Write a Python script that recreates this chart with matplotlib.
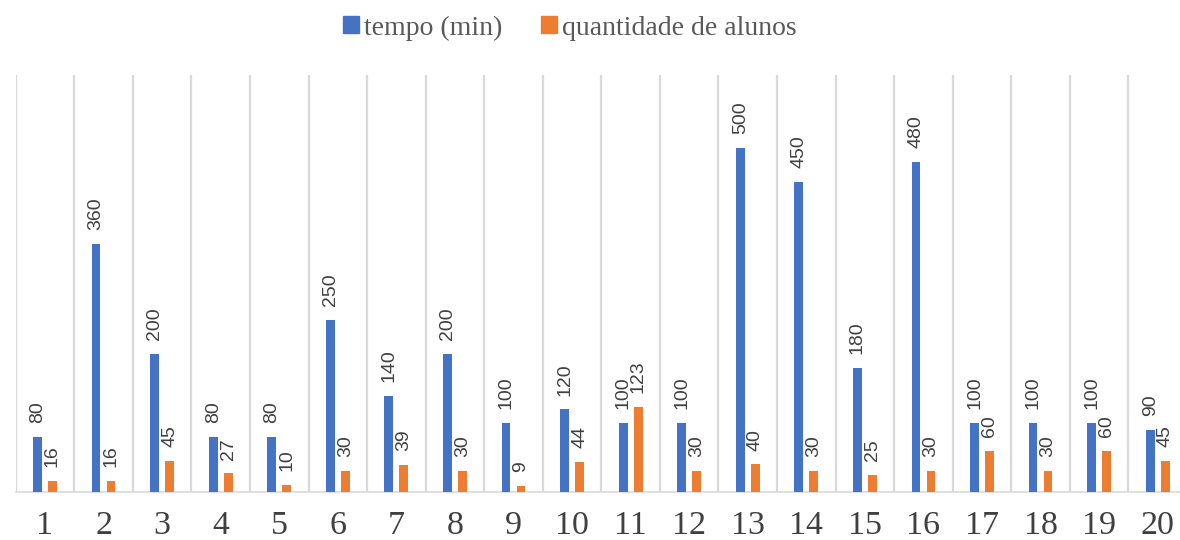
import matplotlib
matplotlib.use("Agg")
import matplotlib.pyplot as plt
from matplotlib.patches import Patch
import numpy as np

# Chart data
categories = [str(i) for i in range(1, 21)]
tempo_min = [80, 360, 200, 80, 80, 250, 140, 200, 100, 120,
             100, 100, 500, 450, 180, 480, 100, 100, 100, 90]
qtd_alunos = [16, 16, 45, 27, 10, 30, 39, 30, 9, 44,
              123, 30, 40, 30, 25, 30, 60, 30, 60, 45]
series_names = ["tempo (min)", "quantidade de alunos"]

BLUE = "#4472C4"
ORANGE = "#ED7D31"
GRID = "#D9D9D9"
TEXT = "#404040"

fig = plt.figure(figsize=(11.8, 5.4), dpi=100)
ax = fig.add_axes([15.7 / 1180, 48 / 540, (1187 - 15.7) / 1180, (492 - 75) / 540])

x = np.arange(1, len(categories) + 1)
width = 0.15
offset = 0.128

bars_t = ax.bar(x - offset, tempo_min, width, color=BLUE, zorder=3)
bars_a = ax.bar(x + offset, qtd_alunos, width, color=ORANGE, zorder=3)

label_font = dict(family="Liberation Sans", size=14, color=TEXT)
for bars, vals in ((bars_t, tempo_min), (bars_a, qtd_alunos)):
    for b, v in zip(bars, vals):
        ax.annotate(str(v), (b.get_x() + b.get_width() / 2, v),
                    xytext=(0, 10), textcoords="offset points",
                    rotation=90, ha="center", va="bottom", **label_font)

ax.set_xlim(0.5, len(categories) + 0.5)
ax.set_ylim(0, 606)

# Category separators
for b in np.arange(0.5, len(categories) + 1.0, 1.0):
    ax.axvline(b, color=GRID, lw=1.6, zorder=1)

ax.set_xticks(x)
ax.set_xticklabels(categories, family="Liberation Serif", fontsize=24.5, color=TEXT)
ax.tick_params(axis="x", length=0, pad=13)
ax.set_yticks([])
for side in ("top", "left", "right"):
    ax.spines[side].set_visible(False)
ax.spines["bottom"].set_color(GRID)
ax.spines["bottom"].set_linewidth(1.2)

handles = [Patch(color=BLUE), Patch(color=ORANGE)]
leg = fig.legend(handles, series_names, loc="center", bbox_to_anchor=(570 / 1180, 1 - 28 / 540),
                 ncol=2, frameon=False, handlelength=0.55, handleheight=0.55,
                 handletextpad=0.2, columnspacing=1.4,
                 prop=dict(family="Liberation Serif", size=20))
for t in leg.get_texts():
    t.set_color("#595959")

fig.savefig("out.png", dpi=100)
